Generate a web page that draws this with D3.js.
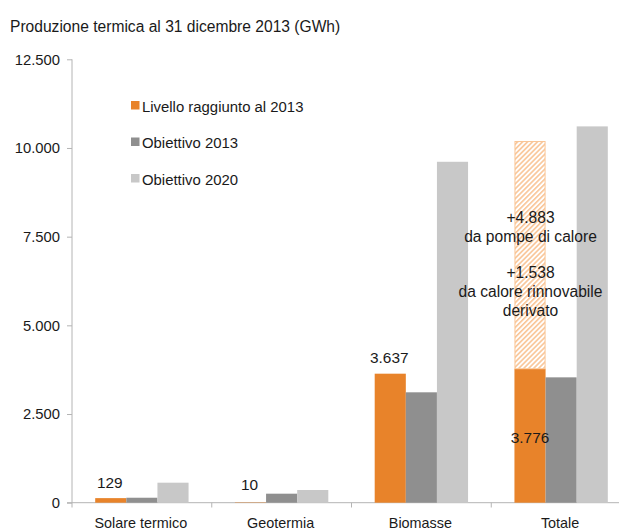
<!DOCTYPE html>
<html><head><meta charset="utf-8">
<script src="https://cdn.jsdelivr.net/npm/d3@7"></script>
<style>
html,body{margin:0;padding:0;background:#fff;}
svg text{font-family:"Liberation Sans",Arial,sans-serif;fill:#1a1a1a;}
</style></head>
<body><svg id="chart" width="619" height="529"></svg>
<script>
const categories = ["Solare termico","Geotermia","Biomasse","Totale"];
const seriesNames = ["Livello raggiunto al 2013","Obiettivo 2013","Obiettivo 2020"];
const livello2013 = [129, 10, 3637, 3776];
const obiettivo2013 = [140, 254, 3112, 3534];
const obiettivo2020 = [564, 358, 9611, 10609];
const extraPompe = [0, 0, 0, 4883];
const extraDerivato = [0, 0, 0, 1538];
const yTicks = [0, 2500, 5000, 7500, 10000, 12500];
const title = "Produzione termica al 31 dicembre 2013 (GWh)";
const annotations = ["+4.883","da pompe di calore","+1.538","da calore rinnovabile","derivato"];

const colors = ["#e8832a","#8f8f8f","#c8c8c8"];
const axisColor = "#b4b4b4";

const svg = d3.select("#chart");
const it = d3.formatLocale({decimal:",", thousands:".", grouping:[3], currency:["",""]});
const fmt = it.format(",");

const y = d3.scaleLinear().domain([0,12500]).range([502.7, 59.3]);
const x = d3.scaleBand().domain(categories).range([72, 631]).paddingInner(0).paddingOuter(0);
const inner = d3.scaleBand().domain(seriesNames).range([23.2, x.bandwidth()-23.2]).padding(0);

// defs hatch
const defs = svg.append("defs");
const pat = defs.append("pattern").attr("id","hatch").attr("patternUnits","userSpaceOnUse")
  .attr("width",3.5).attr("height",3.5).attr("patternTransform","rotate(45)");
pat.append("rect").attr("width",3.5).attr("height",3.5).attr("fill","#fff");
pat.append("rect").attr("width",1.6).attr("height",3.5).attr("fill","#f9c596");

// title
svg.append("text").attr("x",10).attr("y",31.5).attr("font-size",15.6).text(title);

// y axis
const yAxis = d3.axisLeft(y).tickValues(yTicks).tickSize(5).tickPadding(7).tickFormat(fmt);
const ga = svg.append("g").attr("transform","translate(72,0)").call(yAxis);
ga.select(".domain").remove();
ga.selectAll(".tick line").attr("stroke",axisColor);
ga.selectAll(".tick text").attr("font-size",14.8).attr("font-family","Liberation Sans, Arial, sans-serif").attr("fill","#1a1a1a");
svg.append("line").attr("x1",72).attr("x2",72).attr("y1",y(12500)).attr("y2",507.5).attr("stroke",axisColor);

// x axis baseline and boundary ticks
svg.append("line").attr("x1",67).attr("x2",631).attr("y1",y(0)).attr("y2",y(0)).attr("stroke",axisColor);
categories.forEach((c,i)=>{ if(i>0){ svg.append("line").attr("x1",x(c)).attr("x2",x(c)).attr("y1",y(0)).attr("y2",507.5).attr("stroke",axisColor);} });

// bars
const series = [livello2013, obiettivo2013, obiettivo2020];
series.forEach((vals,si)=>{
  svg.append("g").selectAll("rect").data(categories).join("rect")
    .attr("x",c=>x(c)+inner(seriesNames[si]))
    .attr("width",inner.bandwidth())
    .attr("y",(c,i)=>y(vals[i]))
    .attr("height",(c,i)=>y(0)-y(vals[i]))
    .attr("fill",colors[si]);
});
// hatched extra on Totale
categories.forEach((c,i)=>{
  const total = extraPompe[i]+extraDerivato[i];
  if(total>0){
    const base = livello2013[i];
    svg.append("rect").attr("x",x(c)+inner(seriesNames[0])+0.5).attr("width",inner.bandwidth()-1)
      .attr("y",y(base+total)+0.5).attr("height",y(base)-y(base+total)-0.5)
      .attr("fill","url(#hatch)").attr("stroke","#f9c596").attr("stroke-width",1);
  }
});

// value labels
const lblX = (c)=>x(c)+inner(seriesNames[0])+inner.bandwidth()/2;
[[0,488],[1,489.5],[2,363]].forEach(([i,yy])=>{
  svg.append("text").attr("x",lblX(categories[i])-1).attr("y",yy).attr("text-anchor","middle")
    .attr("font-size",15.4).text(fmt(livello2013[i]));
});
svg.append("text").attr("x",lblX(categories[3])).attr("y",443).attr("text-anchor","middle")
  .attr("font-size",15.4).text(fmt(livello2013[3]));

// annotations
const annY = [222.5, 242, 278, 297, 316];
annotations.forEach((t,k)=>{
  svg.append("text").attr("x",lblX(categories[3])+0.5).attr("y",annY[k]).attr("text-anchor","middle")
    .attr("font-size",15.6).text(t);
});

// legend
const legY = [101, 137.5, 174];
seriesNames.forEach((n,k)=>{
  svg.append("rect").attr("x",131).attr("y",legY[k]).attr("width",8.5).attr("height",8.5).attr("fill",colors[k]);
  svg.append("text").attr("x",142).attr("y",legY[k]+10.5).attr("font-size",14.9).text(n);
});

// category labels
svg.append("g").selectAll("text").data(categories).join("text")
  .attr("x",c=>x(c)+x.bandwidth()/2 - 1).attr("y",527.5).attr("text-anchor","middle")
  .attr("font-size",14.4).text(c=>c);
</script></body></html>
